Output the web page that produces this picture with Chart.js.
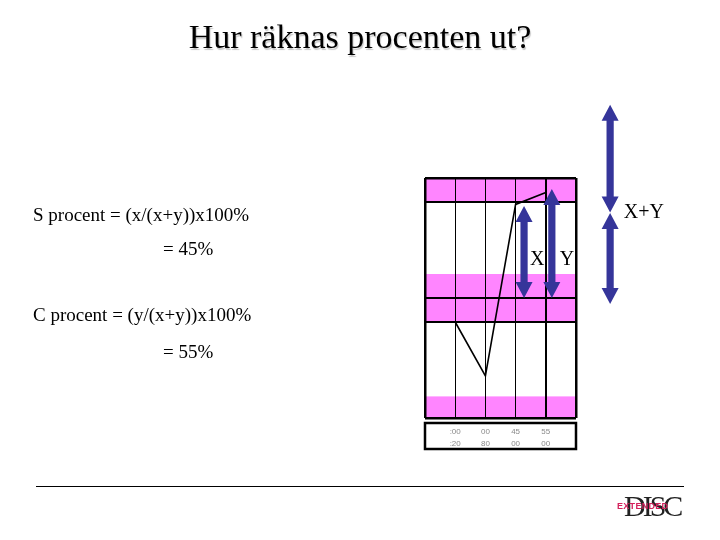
<!DOCTYPE html>
<html>
<head>
<meta charset="utf-8">
<script src="https://cdn.jsdelivr.net/npm/chart.js@4.4.1/dist/chart.umd.min.js"></script>
<style>
  body { margin: 0; background: #fff; }
  #page { position: relative; width: 720px; height: 540px; overflow: hidden; font-family: "Liberation Serif", "DejaVu Serif", serif; }
  #page canvas { position: absolute; left: 0; top: 0; }
  .txt { position: absolute; white-space: pre; color: #000; }
  #title { left: 0; width: 720px; top: 18px; text-align: center; font-size: 34px; text-shadow: 1px 2px 1px #c8c8c8; }
  .calc { font-size: 19px; }
  #rule { position: absolute; left: 36px; top: 486px; width: 648px; height: 1px; background: #000; }
  #logo { position: absolute; left: 614px; top: 489px; width: 66px; height: 34px; }
  #logo .disc { position: absolute; left: 10px; top: 0; font-size: 30px; letter-spacing: -3px; color: #222; }
  #logo .ext { position: absolute; left: 3px; top: 12px; font-family: "Liberation Sans", sans-serif; font-weight: bold; font-size: 9px; color: #d4215c; letter-spacing: 0.3px; }
</style>
</head>
<body>
<div id="page">
  <canvas id="myChart" width="720" height="540"></canvas>
  <div id="title" class="txt">Hur räknas procenten ut?</div>
  <div class="txt calc" style="left:33px; top:204px;">S procent = (x/(x+y))x100%</div>
  <div class="txt calc" style="left:163px; top:238px;">= 45%</div>
  <div class="txt calc" style="left:33px; top:304px;">C procent = (y/(x+y))x100%</div>
  <div class="txt calc" style="left:163px; top:341px;">= 55%</div>
  <div id="rule"></div>
  <div id="logo"><span class="disc">DISC</span><span class="ext">EXTENDED</span></div>
</div>
<script>
// graph columns (x = column line) and profile values (0-100 graph scale)
const columns = [1, 2, 3, 4]
const profile = [40, 17.5, 89, 94]
const topRow = [':00', '00', '45', '55']
const bottomRow = [':20', '80', '00', '00']

// pink bands and heavy lines on the graph
const bandFrom = [90, 40, 0]
const bandTo = [100, 60, 9]
const heavyLines = [40, 50, 90]

// double arrows: column position, start and end in graph units
const arrowX = [3.28, 4.2, 6.13, 6.13]
const arrowFrom = [88.3, 95.4, 130.5, 85.4]
const arrowTo = [50, 50, 85.6, 47.5]

// arrow labels
const labelText = ['X', 'Y', 'X+Y']
const labelX = [3.72, 4.7, 7.25]
const labelY = [66, 66, 85.5]

let myChart = document.getElementById('myChart')

const bandsPlugin = {
    id: 'bands',
    beforeDraw(chart) {
        const { ctx, chartArea, scales } = chart
        ctx.save()
        ctx.fillStyle = '#ff85ff'
        for (let i = 0; i < bandFrom.length; i++) {
            const y1 = scales.y.getPixelForValue(bandTo[i])
            const y2 = scales.y.getPixelForValue(bandFrom[i])
            ctx.fillRect(chartArea.left, y1, chartArea.right - chartArea.left, y2 - y1)
        }
        ctx.restore()
    }
}

function doubleArrow(ctx, x, y1, y2) {
    const head = 16, half = 8.5, shaft = 3.6
    const top = Math.min(y1, y2), bot = Math.max(y1, y2)
    ctx.beginPath()
    ctx.moveTo(x, top)
    ctx.lineTo(x + half, top + head)
    ctx.lineTo(x + shaft, top + head)
    ctx.lineTo(x + shaft, bot - head)
    ctx.lineTo(x + half, bot - head)
    ctx.lineTo(x, bot)
    ctx.lineTo(x - half, bot - head)
    ctx.lineTo(x - shaft, bot - head)
    ctx.lineTo(x - shaft, top + head)
    ctx.lineTo(x - half, top + head)
    ctx.closePath()
    ctx.fill()
}

const arrowsPlugin = {
    id: 'arrows',
    afterDatasetsDraw(chart) {
        const { ctx, chartArea, scales } = chart
        ctx.save()
        ctx.fillStyle = '#35359a'
        for (let i = 0; i < arrowX.length; i++) {
            doubleArrow(ctx, scales.x.getPixelForValue(arrowX[i]),
                scales.y.getPixelForValue(arrowFrom[i]), scales.y.getPixelForValue(arrowTo[i]))
        }
        ctx.fillStyle = '#000'
        ctx.font = '20px "Liberation Serif"'
        ctx.textAlign = 'center'
        ctx.textBaseline = 'middle'
        for (let i = 0; i < labelText.length; i++) {
            ctx.fillText(labelText[i], scales.x.getPixelForValue(labelX[i]), scales.y.getPixelForValue(labelY[i]))
        }
        // box round the tick table
        ctx.strokeStyle = '#000'
        ctx.lineWidth = 2.5
        ctx.strokeRect(chartArea.left, chartArea.bottom + 5, chartArea.right - chartArea.left, 26)
        ctx.restore()
    }
}

const masspopChart = new Chart(myChart, {
    type: 'line',
    data: {
        datasets: [{
            data: columns.map((c, i) => ({ x: c, y: profile[i] })),
            borderColor: '#000',
            borderWidth: 1.6,
            pointRadius: 0,
            tension: 0,
            clip: false
        }]
    },
    options: {
        responsive: false,
        animation: false,
        layout: { padding: { left: 425, top: 178, right: 144, bottom: 82 } },
        plugins: { legend: { display: false }, tooltip: { enabled: false } },
        scales: {
            x: {
                type: 'linear',
                min: 0,
                max: 5,
                afterBuildTicks: (scale) => { scale.ticks = [0, 1, 2, 3, 4, 5].map(v => ({ value: v })) },
                afterFit: (scale) => { scale.height = 40 },
                grid: {
                    color: '#000',
                    drawTicks: false,
                    lineWidth: (c) => (c.tick.value === 0 || c.tick.value === 5) ? 2.5 : (c.tick.value === 4 ? 2 : 1)
                },
                border: { display: false },
                ticks: {
                    padding: 8,
                    color: '#8a8a8a',
                    font: { size: 8, family: 'Liberation Sans', lineHeight: 1.5 },
                    maxRotation: 0,
                    autoSkip: false,
                    callback: (v) => {
                        const i = columns.indexOf(v)
                        return i < 0 ? '' : [topRow[i], bottomRow[i]]
                    }
                }
            },
            y: {
                min: 0,
                max: 100,
                afterBuildTicks: (scale) => { scale.ticks = [0, ...heavyLines, 100].map(v => ({ value: v })) },
                afterFit: (scale) => { scale.width = 0 },
                grid: {
                    color: '#000',
                    drawTicks: false,
                    lineWidth: (c) => (c.tick.value === 0 || c.tick.value === 100) ? 2.5 : 2
                },
                border: { display: false },
                ticks: { display: false }
            }
        }
    },
    plugins: [bandsPlugin, arrowsPlugin]
})
</script>
</body>
</html>
